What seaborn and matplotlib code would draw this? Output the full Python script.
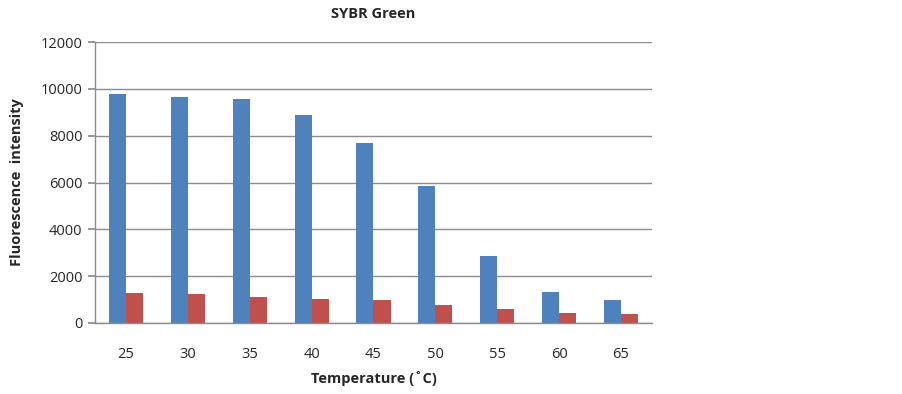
import pandas as pd
import seaborn as sns
import matplotlib.pyplot as plt

sns.set_theme(style="white")
plt.rcParams['font.family'] = ['Open Sans', 'DejaVu Sans']

# Values
temperatures = ['25', '30', '35', '40', '45', '50', '55', '60', '65']
series_blue = [9800, 9650, 9570, 8900, 7700, 5870, 2880, 1310, 980]
series_red = [1300, 1250, 1130, 1040, 1000, 760, 590, 440, 400]

data = pd.DataFrame({
    'Temperature': temperatures * 2,
    'Fluorescence': series_blue + series_red,
    'Series': ['Series1'] * len(temperatures) + ['Series2'] * len(temperatures),
})

fig = plt.figure(figsize=(9.03, 3.94), dpi=100)
ax = fig.add_axes([95 / 903, 1 - 323 / 394, 557 / 903, 281 / 394])

sns.barplot(data=data, x='Temperature', y='Fluorescence', hue='Series',
            order=temperatures, palette=['#4F81BD', '#C0504D'], saturation=1,
            width=0.55, legend=False, ax=ax, edgecolor='none')

ax.set_ylim(0, 12000)
ax.set_yticks(range(0, 12001, 2000))
ax.set_xlim(-0.5, len(temperatures) - 0.5)
ax.yaxis.grid(True, color='#8c8c8c', linewidth=1)
ax.set_axisbelow(True)

for side in ['top', 'right']:
    ax.spines[side].set_visible(False)
for side in ['left', 'bottom']:
    ax.spines[side].set_color('#8c8c8c')
    ax.spines[side].set_linewidth(1)

ax.tick_params(axis='y', left=True, length=5, color='#8c8c8c', labelsize=10.5, pad=4)
ax.tick_params(axis='x', bottom=False, labelsize=10.5, pad=11)

ax.set_title('SYBR Green', fontsize=10.5, fontweight='bold', pad=17)
ax.set_xlabel('Temperature (˚C)', fontsize=10.5, fontweight='bold', labelpad=7)
ax.set_ylabel('Fluorescence  intensity', fontsize=10.5, fontweight='bold', labelpad=12)

fig.savefig('out.png', dpi=100)
